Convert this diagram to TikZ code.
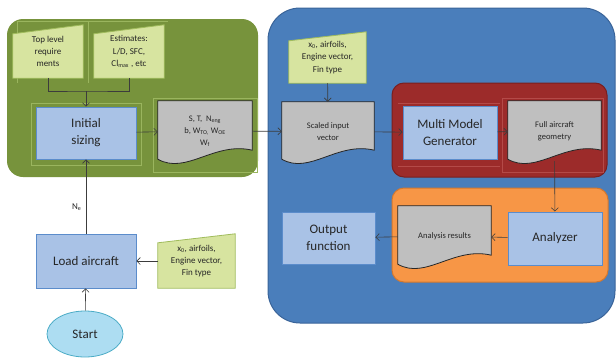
\documentclass[tikz,border=0pt]{standalone}
\usepackage{fontspec}
\setmainfont{Carlito}
\usetikzlibrary{arrows.meta,calc,shapes.geometric}

\pgfdeclarelayer{panels}
\pgfdeclarelayer{shapes}
\pgfsetlayers{panels,shapes,main}

\definecolor{greenpanel}{HTML}{77933C}
\definecolor{greenframe}{HTML}{9AB55E}
\definecolor{bluepanel}{HTML}{4A7EBB}
\definecolor{blueedge}{HTML}{3A6499}
\definecolor{redpanel}{HTML}{9C2B2A}
\definecolor{rededge}{HTML}{7A1F1F}
\definecolor{redframe}{HTML}{B44A48}
\definecolor{orangepanel}{HTML}{F79646}
\definecolor{orangeedge}{HTML}{D4782E}
\definecolor{inputfill}{HTML}{D7E4A0}
\definecolor{inputedge}{HTML}{A0BC5C}
\definecolor{procfill}{HTML}{A9C2E6}
\definecolor{procedge}{HTML}{5B8CCB}
\definecolor{docfill}{HTML}{BFBFBF}
\definecolor{startfill}{HTML}{ADDDF2}
\definecolor{startedge}{HTML}{4BACC6}
\definecolor{ink}{HTML}{262626}

\tikzset{
  wh/.style 2 args={minimum width=#1pt,minimum height=#2pt,inner sep=0pt},
  proc/.style={draw=procedge,fill=procfill,line width=0.8pt,align=center,
    text=ink,font=\fontsize{13}{17}\selectfont},
  inbox/.style={align=center,text=ink,font=\fontsize{9}{12.3}\selectfont},
  docbox/.style={align=center,text=ink,font=\fontsize{8.5}{12}\selectfont},
  link/.style={draw=ink!90,line width=0.6pt},
  arrow/.style={link,-{Straight Barb[length=3.5pt,width=7pt]}},
  frame/.style={line width=0.5pt}
}

% manual input shape (slanted top) behind a named node
\newcommand\manualin[1]{%
  \begin{pgfonlayer}{shapes}
    \filldraw[fill=inputfill,draw=inputedge,line width=0.8pt]
      (#1.south west) -- ([yshift=-9pt]#1.north west) -- (#1.north east)
      -- (#1.south east) -- cycle;
  \end{pgfonlayer}}
% document shape (wavy bottom) behind a named node
\newcommand\docshape[1]{%
  \begin{pgfonlayer}{shapes}
    \filldraw[fill=docfill,draw=ink,line width=0.8pt]
      ([yshift=2pt]#1.south west) -- (#1.north west) -- (#1.north east)
      -- ([yshift=11pt]#1.south east)
      .. controls ($(#1.south west)!.6!(#1.south east)+(0,20pt)$)
      and ($(#1.south west)!.3!(#1.south east)+(0,-14pt)$)
      .. ([yshift=2pt]#1.south west) -- cycle;
  \end{pgfonlayer}}

\begin{document}
\begin{tikzpicture}[x=1pt,y=-1pt]
\useasboundingbox (0,0) rectangle (616,359);

% panels
\begin{pgfonlayer}{panels}
  \fill[greenpanel,rounded corners=16pt] (7,19) rectangle (258,177);
  \draw[frame,greenframe] (17,83) -- (17,21) -- (168,21);
  \draw[frame,greenframe] (88,21) -- (88,83);
  \draw[frame,greenframe] (31,103) rectangle (141,165);
  \draw[frame,greenframe] (153,98) rectangle (257,172);
  \filldraw[fill=bluepanel,draw=blueedge,line width=1pt,rounded corners=32pt]
    (268,8) rectangle (615,323);
  \filldraw[fill=redpanel,draw=rededge,line width=1pt,rounded corners=12pt]
    (392,83) rectangle (607,177);
  \draw[frame,redframe] (398,103) -- (500,103);
  \draw[frame,redframe] (398,166) -- (500,166);
  \draw[frame,redframe] (502,98) rectangle (603,172);
  \filldraw[fill=orangepanel,draw=orangeedge,line width=1pt,rounded corners=12pt]
    (392,188) rectangle (608,282);
\end{pgfonlayer}

% sizing loop
\node[inbox,wh={70}{53}] (toplvl) at (48,51.5) {Top level\\require\\ments};
\manualin{toplvl}
\node[inbox,wh={70}{53}] (estim) at (129,51.5) {Estimates:\\L/D, SFC,\\Cl\textsubscript{max} , etc};
\manualin{estim}
\node[proc,wh={100}{52}] (sizing) at (86,133) {Initial\\sizing};
\node[docbox,wh={94}{60}] (outs) at (205,131)
  {S, T, \ N\textsubscript{eng}\\b, W\textsubscript{TO,} W\textsubscript{OE}\\W\textsubscript{f}};
\docshape{outs}
\coordinate (join) at (86,91);

% model generation
\node[inbox,wh={77}{51}] (geninput) at (327.5,57.5) {x\textsubscript{0}, airfoils,\\Engine vector,\\Fin type};
\manualin{geninput}
\node[docbox,wh={92}{59}] (scaled) at (328,131.5) {Scaled input\\vector};
\docshape{scaled}
\node[proc,wh={94}{53}] (mmg) at (450,132.5) {Multi Model\\Generator};
\node[docbox,wh={93}{60}] (fullgeo) at (554.5,131) {Full aircraft\\geometry};
\docshape{fullgeo}

% analysis
\node[proc,wh={94}{53}] (analyzer) at (555,238.5) {Analyzer};
\node[docbox,wh={93}{60}] (results) at (444.5,236) {Analysis results};
\docshape{results}
\node[proc,wh={93}{52}] (output) at (328.5,238) {Output\\function};

% start
\node[proc,wh={100}{54}] (loadac) at (86,261) {Load aircraft};
\node[inbox,wh={77}{54}] (loadin) at (196.5,261) {x\textsubscript{0}, airfoils,\\Engine vector,\\Fin type};
\manualin{loadin}
\node[ellipse,draw=startedge,fill=startfill,line width=0.8pt,wh={76}{46},
  text=ink,font=\fontsize{13}{17}\selectfont] (start) at (85,334) {Start};

% connectors
\draw[link] (toplvl) |- (join) -| (estim);
\draw[arrow] (join) -- (sizing);
\draw[arrow] (sizing) -- (outs);
\draw[arrow] (outs) -- (scaled);
\draw[arrow] (geninput) -- (scaled);
\draw[arrow] (scaled) -- (mmg);
\draw[arrow] (mmg) -- (fullgeo);
\draw[arrow] (fullgeo) -- (analyzer);
\draw[arrow] (analyzer) -- (results);
\draw[arrow] (results) -- (output);
\draw[arrow] (loadin) -- (loadac);
\draw[arrow] (start) -- (loadac);
\draw[arrow] (loadac) -- node[pos=0.36,left=1pt,inbox] {N\textsubscript{e}} (sizing);
\end{tikzpicture}
\end{document}
